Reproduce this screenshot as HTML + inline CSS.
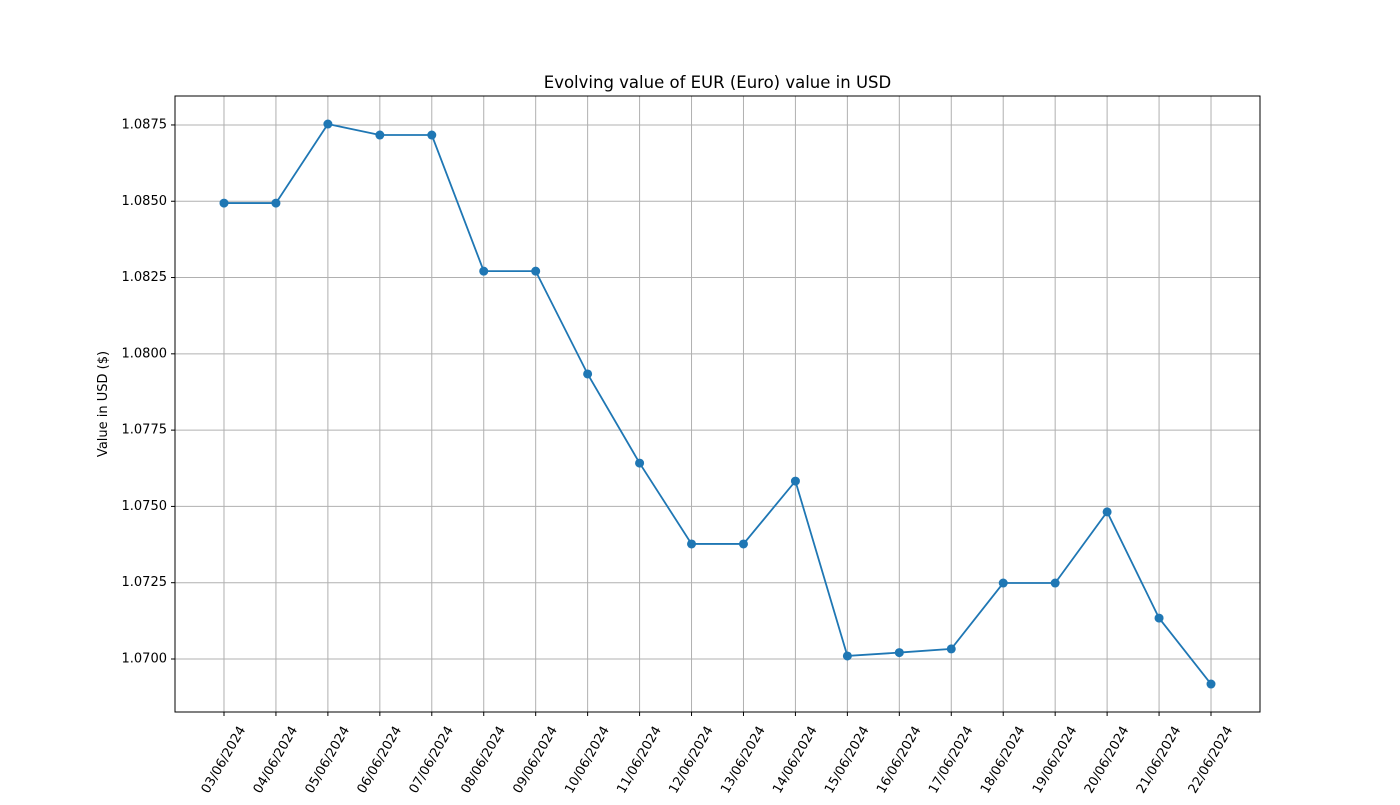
<!DOCTYPE html>
<html><head><meta charset="utf-8"><style>
body{margin:0;background:#fff;}
text{font-family:"DejaVu Sans","Liberation Sans",sans-serif;}
</style></head><body>
<svg id="chart" width="1400" height="800" xmlns="http://www.w3.org/2000/svg">
<rect width="1400" height="800" fill="#fff"/>
<g id="grid"></g>
<g id="xticks"></g>
<g id="yticks"></g>
<g id="series"></g>
<rect x="175" y="96" width="1085" height="616" fill="none" stroke="#000" stroke-width="1"/>
<text x="717.5" y="88" font-size="16.5" text-anchor="middle">Evolving value of EUR (Euro) value in USD</text>
<text transform="translate(107,404) rotate(-90)" font-size="13" text-anchor="middle">Value in USD ($)</text>
</svg>
<script>
const categories=["03/06/2024","04/06/2024","05/06/2024","06/06/2024","07/06/2024","08/06/2024","09/06/2024","10/06/2024","11/06/2024","12/06/2024","13/06/2024","14/06/2024","15/06/2024","16/06/2024","17/06/2024","18/06/2024","19/06/2024","20/06/2024","21/06/2024","22/06/2024"];
const values=[1.08494,1.08494,1.08753,1.08717,1.08717,1.08271,1.08271,1.07934,1.07642,1.07377,1.07377,1.07583,1.07010,1.07021,1.07033,1.07249,1.07249,1.07482,1.07134,1.06918];
const yTicks=[1.0700,1.0725,1.0750,1.0775,1.0800,1.0825,1.0850,1.0875];
const yTickLabels=["1.0700","1.0725","1.0750","1.0775","1.0800","1.0825","1.0850","1.0875"];
const L=175,R=1260,T=96,B=712;
const yMin=1.068263,yMax=1.088449;
const xMin=-0.943,xMax=categories.length-1+0.943;
const x=i=>L+(i-xMin)/(xMax-xMin)*(R-L);
const y=v=>B-(v-yMin)/(yMax-yMin)*(B-T);
const NS="http://www.w3.org/2000/svg";
function mk(tag,parent,attrs){const e=document.createElementNS(NS,tag);for(const k in attrs)e.setAttribute(k,attrs[k]);parent.appendChild(e);return e;}
const grid=document.getElementById('grid'),xt=document.getElementById('xticks'),yt=document.getElementById('yticks'),ser=document.getElementById('series');
categories.forEach((c,i)=>{
  const gx=mk('line',grid,{x1:x(i),x2:x(i),y1:T,y2:B,stroke:'#b0b0b0','stroke-width':1});
  
  
  const tk=mk('line',xt,{x1:x(i),x2:x(i),y1:B,y2:B+4,stroke:'#000'});
  
  
  const t=mk('text',xt,{x:0,y:0,'font-size':13,'text-anchor':'middle','dominant-baseline':'central',transform:`translate(${x(i)},${B+48}) rotate(-60)`});
  t.textContent=c;
  
  
});
yTicks.forEach((v,i)=>{
  const g=mk('line',grid,{x1:L,x2:R,y1:y(v),y2:y(v),stroke:'#b0b0b0','stroke-width':1});
  
  
  const tk=mk('line',yt,{x1:L-4,x2:L,y1:y(v),y2:y(v),stroke:'#000'});
  
  
  const t=mk('text',yt,{x:L-8,y:y(v),'font-size':13,'text-anchor':'end','dominant-baseline':'central'});
  t.textContent=yTickLabels[i];
  
  
});
const pl=mk('polyline',ser,{points:values.map((v,i)=>x(i)+','+y(v)).join(' '),fill:'none',stroke:'#1f77b4','stroke-width':1.8});


values.forEach((v,i)=>{
  const c=mk('circle',ser,{cx:x(i),cy:y(v),r:4.5,fill:'#1f77b4'});
  
  
});
</script>
</body></html>
